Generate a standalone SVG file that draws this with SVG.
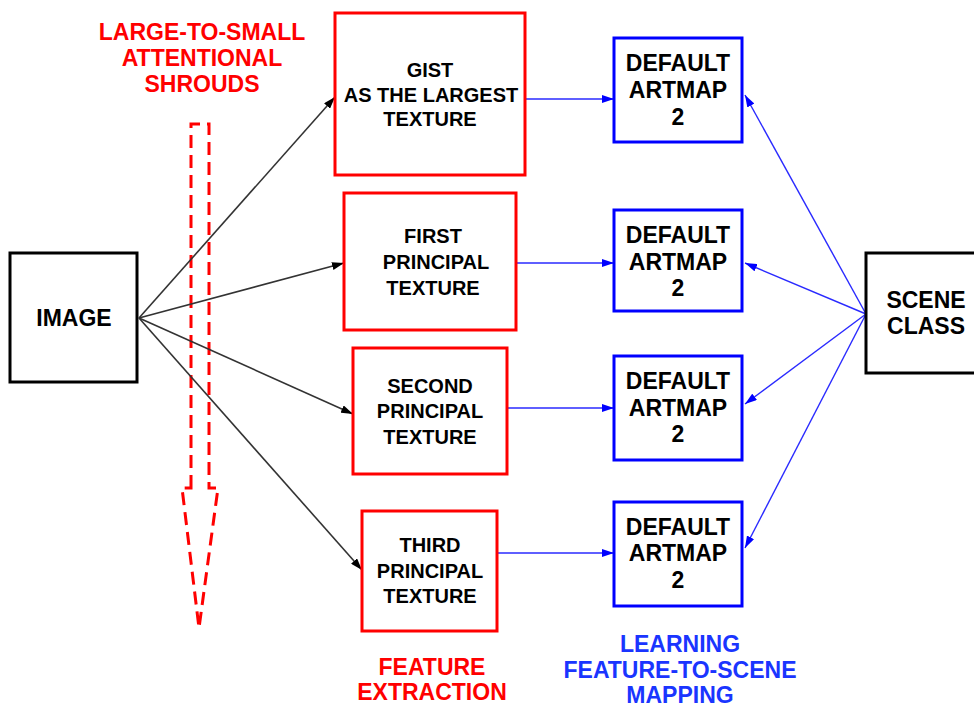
<svg xmlns="http://www.w3.org/2000/svg" width="974" height="708" viewBox="0 0 974 708">
<style>
text{font-family:"Liberation Sans",Arial,sans-serif;font-weight:bold;text-anchor:middle}
.t20{font-size:20px;fill:#000}
.t23{font-size:23px;fill:#000}
.lr{font-size:23px;fill:#ff0000}
.lb{font-size:23px;fill:#1a35ff}
.rb{fill:#fff;stroke:#ff0000;stroke-width:3}
.bb{fill:#fff;stroke:#0000ff;stroke-width:3}
.kb{fill:#fff;stroke:#000;stroke-width:3}
.ck{stroke:#333;stroke-width:1.6;fill:none}
.cb{stroke:#2a2aff;stroke-width:1.4;fill:none}
</style>
<defs>
<marker id="ak" viewBox="0 0 12 8" refX="12" refY="4" markerWidth="12" markerHeight="8" markerUnits="userSpaceOnUse" orient="auto"><path d="M0,0L12,4L0,8z" fill="#000"/></marker>
<marker id="ab" viewBox="0 0 12 8" refX="12" refY="4" markerWidth="12" markerHeight="8" markerUnits="userSpaceOnUse" orient="auto"><path d="M0,0L12,4L0,8z" fill="#0000ff"/></marker>
</defs>
<rect width="974" height="708" fill="#fff"/>
<g id="labels">
<text class="lr" x="202" y="40">LARGE-TO-SMALL</text>
<text class="lr" x="202" y="66">ATTENTIONAL</text>
<text class="lr" x="202" y="92">SHROUDS</text>
<text class="lr" x="432" y="675">FEATURE</text>
<text class="lr" x="432" y="700">EXTRACTION</text>
<text class="lb" x="680" y="652">LEARNING</text>
<text class="lb" x="680" y="678">FEATURE-TO-SCENE</text>
<text class="lb" x="680" y="703">MAPPING</text>
</g>
<g id="shroud">
<path d="M191,488 V124 H209 V488 H218 L199,628 L182,488 Z" fill="none" stroke="#ff0000" stroke-width="3" stroke-dasharray="13,7"/>
</g>
<g id="connectors">
<line class="ck" x1="139" y1="318" x2="335" y2="97" marker-end="url(#ak)"/>
<line class="ck" x1="139" y1="318" x2="344" y2="263" marker-end="url(#ak)"/>
<line class="ck" x1="139" y1="318" x2="353" y2="414" marker-end="url(#ak)"/>
<line class="ck" x1="139" y1="318" x2="362" y2="570" marker-end="url(#ak)"/>
<line class="cb" x1="525" y1="99" x2="614" y2="99" marker-end="url(#ab)"/>
<line class="cb" x1="516" y1="263" x2="614" y2="263" marker-end="url(#ab)"/>
<line class="cb" x1="507" y1="408" x2="614" y2="408" marker-end="url(#ab)"/>
<line class="cb" x1="497" y1="553" x2="614" y2="553" marker-end="url(#ab)"/>
<line class="cb" x1="866" y1="314" x2="745" y2="95" marker-end="url(#ab)"/>
<line class="cb" x1="866" y1="314" x2="745" y2="263" marker-end="url(#ab)"/>
<line class="cb" x1="866" y1="314" x2="745" y2="404" marker-end="url(#ab)"/>
<line class="cb" x1="866" y1="314" x2="745" y2="548" marker-end="url(#ab)"/>
</g>
<g id="image">
<rect class="kb" x="10" y="253" width="127" height="129"/>
<text class="t23" x="74" y="326">IMAGE</text>
</g>
<g id="gist">
<rect class="rb" x="335" y="13" width="190" height="162"/>
<text class="t20" x="430" y="77">GIST</text>
<text class="t20" x="431" y="102">AS THE LARGEST</text>
<text class="t20" x="430" y="126">TEXTURE</text>
</g>
<g id="first">
<rect class="rb" x="344" y="193" width="172" height="137"/>
<text class="t20" x="433" y="243">FIRST</text>
<text class="t20" x="436" y="269">PRINCIPAL</text>
<text class="t20" x="433" y="295">TEXTURE</text>
</g>
<g id="second">
<rect class="rb" x="353" y="348" width="154" height="126"/>
<text class="t20" x="430" y="393">SECOND</text>
<text class="t20" x="430" y="418">PRINCIPAL</text>
<text class="t20" x="430" y="444">TEXTURE</text>
</g>
<g id="third">
<rect class="rb" x="362" y="511" width="135" height="120"/>
<text class="t20" x="430" y="552">THIRD</text>
<text class="t20" x="430" y="578">PRINCIPAL</text>
<text class="t20" x="430" y="603">TEXTURE</text>
</g>
<g id="artmap1">
<rect class="bb" x="614" y="38" width="128" height="104"/>
<text class="t23" x="678" y="71">DEFAULT</text>
<text class="t23" x="678" y="98">ARTMAP</text>
<text class="t23" x="678" y="125">2</text>
</g>
<g id="artmap2">
<rect class="bb" x="614" y="210" width="128" height="101"/>
<text class="t23" x="678" y="243">DEFAULT</text>
<text class="t23" x="678" y="270">ARTMAP</text>
<text class="t23" x="678" y="296">2</text>
</g>
<g id="artmap3">
<rect class="bb" x="614" y="356" width="128" height="104"/>
<text class="t23" x="678" y="389">DEFAULT</text>
<text class="t23" x="678" y="416">ARTMAP</text>
<text class="t23" x="678" y="442">2</text>
</g>
<g id="artmap4">
<rect class="bb" x="614" y="502" width="128" height="104"/>
<text class="t23" x="678" y="535">DEFAULT</text>
<text class="t23" x="678" y="561">ARTMAP</text>
<text class="t23" x="678" y="588">2</text>
</g>
<g id="scene">
<rect class="kb" x="866" y="253" width="120" height="120"/>
<text class="t23" x="926" y="308">SCENE</text>
<text class="t23" x="926" y="334">CLASS</text>
</g>
</svg>
